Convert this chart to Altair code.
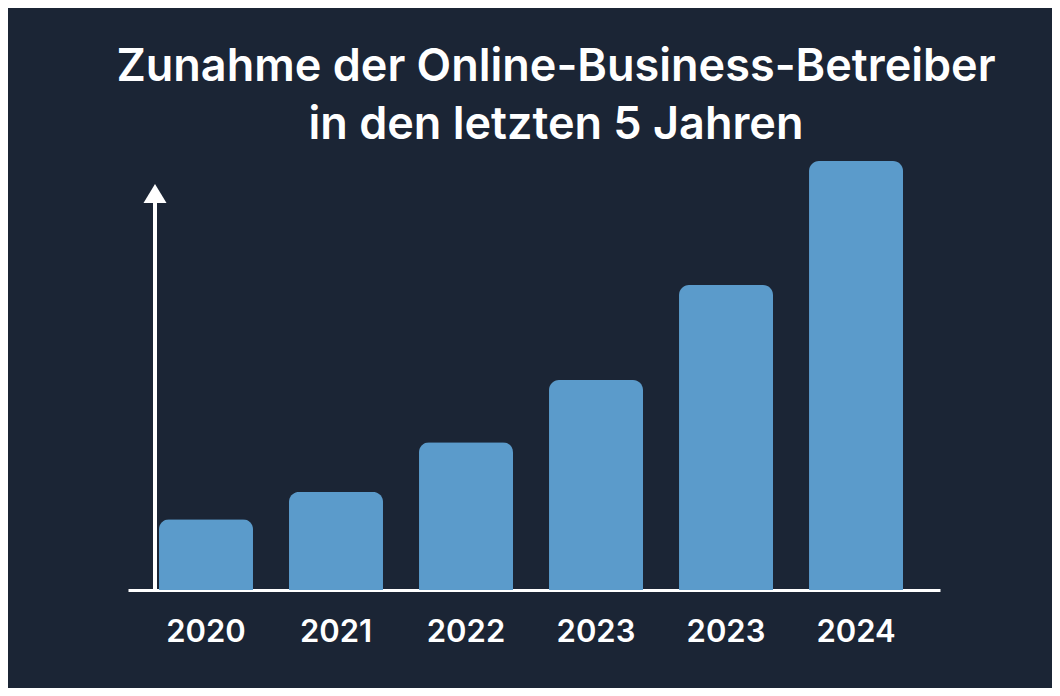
import json
import altair as alt
import pandas as pd

years = ["2020", "2021", "2022", "2023", "2023", "2024"]
values = [16.1, 22.3, 33.6, 47.7, 69.3, 97.5]
title_lines = ["Zunahme der Online-Business-Betreiber", "in den letzten 5 Jahren"]

df = pd.DataFrame({"idx": list(range(len(years))), "year": years, "value": values})

W, H = 812, 440
BG = "#1b2535"
BAR = "#5b9bcb"
label_expr = f"{json.dumps(years)}[datum.value]"

bars = alt.Chart(df).mark_bar(
    color=BAR, cornerRadiusTopLeft=10, cornerRadiusTopRight=10
).encode(
    x=alt.X(
        "idx:O",
        scale=alt.Scale(paddingInner=0.277, paddingOuter=0.2615, align=0.456),
        axis=alt.Axis(
            title=None, labelExpr=label_expr, labelAngle=0, labelFontSize=31,
            labelColor="white", labelFont="Inter", labelFontWeight=600,
            labelPadding=27, ticks=False, domainColor="white", domainWidth=3,
            grid=False,
        ),
    ),
    y=alt.Y("value:Q", scale=alt.Scale(domain=[0, 100]), axis=None),
)

one = alt.Data(values=[{"a": 1}])
arrow_line = alt.Chart(one).mark_rule(color="white", strokeWidth=4).encode(
    x=alt.value(27), y=alt.value(H), y2=alt.value(53)
)
arrow_head = alt.Chart(one).mark_point(
    shape="M-1,0.83L0,-0.83L1,0.83Z", filled=True, size=529, color="white", opacity=1
).encode(x=alt.value(27), y=alt.value(43.5))

chart = alt.layer(bars, arrow_line, arrow_head).properties(
    width=W,
    height=H,
    background=BG,
    autosize=alt.AutoSizeParams(type="none"),
    padding={"left": 120, "top": 142, "right": 112, "bottom": 98},
    title=alt.Title(
        title_lines, fontSize=45, font="Inter", fontWeight=600, color="white",
        lineHeight=58, anchor="middle", dx=22, offset=2,
    ),
).configure_view(strokeWidth=0)

chart.save("out.html", embed_options={"renderer": "svg", "actions": False})
